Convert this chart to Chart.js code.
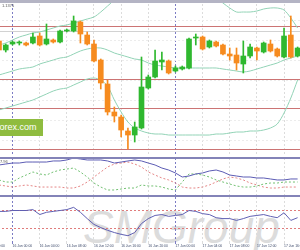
<!DOCTYPE html>
<html>
<head>
<meta charset="utf-8">
<script src="https://cdn.jsdelivr.net/npm/chart.js@4.4.0/dist/chart.umd.min.js"></script>
<style>
  html, body { margin: 0; padding: 0; background: #fff; }
  #wrap { position: relative; width: 300px; height: 250px; overflow: hidden; background: #fff; font-family: 'Liberation Sans', Arial, sans-serif; }
  .pane { position: absolute; left: -18px; }
  .pane canvas { display: block; }
  .sep { position: absolute; left: 0; width: 300px; height: 2px; background: #8383b8; }
  #wm { position: absolute; left: 83px; top: 204px; font-size: 46px; line-height: 46px; font-style: italic; color: #dcdcdc; white-space: nowrap; }
  #fx { position: absolute; left: 0; top: 119px; width: 43px; height: 17px; background: #8fbc3f; color: #fff; font-size: 9px; line-height: 17px; overflow: hidden; white-space: nowrap; text-indent: -3px; }
  .lbl { position: absolute; font-size: 4px; color: #555; white-space: nowrap; }
</style>
</head>
<body>
<div id="wrap">
  <div id="wm">SMGroup</div>
  <div class="pane" style="top:0"><canvas id="mainChart" width="319" height="155"></canvas></div>
  <div class="pane" style="top:158px"><canvas id="adxChart" width="319" height="38"></canvas></div>
  <div class="pane" style="top:197px"><canvas id="rsiChart" width="319" height="53"></canvas></div>
  <div style="position:absolute;left:0;top:0;width:300px;height:3px;background:#b4b4c4"></div>
  <div class="sep" style="top:157px"></div>
  <div class="sep" style="top:195px"></div>
  <div id="fx">forex.com</div>
  <div class="lbl" style="left:2px;top:3px">1.1375</div>
  <div class="lbl" style="left:0;top:159px">7.96</div>
</div>
<script>
// hourly bars, two empty slots on the left so the cut-off first label shows
var hours = ['15 Jun 20:00', '15 Jun 21:00', '15 Jun 22:00', '15 Jun 23:00',
    '16 Jun 00:00', '16 Jun 01:00', '16 Jun 02:00', '16 Jun 03:00', '16 Jun 04:00', '16 Jun 05:00',
    '16 Jun 06:00', '16 Jun 07:00', '16 Jun 08:00', '16 Jun 09:00', '16 Jun 10:00', '16 Jun 11:00',
    '16 Jun 12:00', '16 Jun 13:00', '16 Jun 14:00', '16 Jun 15:00', '16 Jun 16:00', '16 Jun 17:00',
    '16 Jun 18:00', '16 Jun 19:00', '16 Jun 20:00', '16 Jun 21:00', '16 Jun 22:00', '16 Jun 23:00',
    '17 Jun 00:00', '17 Jun 01:00', '17 Jun 02:00', '17 Jun 03:00', '17 Jun 04:00', '17 Jun 05:00',
    '17 Jun 06:00', '17 Jun 07:00', '17 Jun 08:00', '17 Jun 09:00', '17 Jun 10:00', '17 Jun 11:00',
    '17 Jun 12:00', '17 Jun 13:00', '17 Jun 14:00', '17 Jun 15:00', '17 Jun 16:00', '17 Jun 17:00',
    '17 Jun 18:00'];

var open = [1.1359, 1.1350, 1.1356, 1.1357, 1.1357, 1.1357, 1.1364, 1.1356, 1.1360, 1.1358, 1.1369, 1.1369, 1.1378, 1.1365, 1.1356,
    1.1340, 1.1316, 1.1288, 1.1283, 1.1269, 1.1265, 1.1272, 1.1312, 1.1323, 1.1338, 1.1339, 1.1329, 1.1331, 1.1332, 1.1362,
    1.1363, 1.1353, 1.1358, 1.1355, 1.1346, 1.1345, 1.1336, 1.1344, 1.1352, 1.1348, 1.1356, 1.1351, 1.1343, 1.1365, 1.1344];
var high = [1.1361, 1.1356, 1.1359, 1.1359, 1.1358, 1.1367, 1.1367, 1.1376, 1.1361, 1.1370, 1.1371, 1.1384, 1.1379, 1.1368, 1.1360,
    1.1341, 1.1320, 1.1293, 1.1285, 1.1272, 1.1278, 1.1343, 1.1325, 1.1350, 1.1348, 1.1340, 1.1334, 1.1334, 1.1362, 1.1366,
    1.1364, 1.1360, 1.1359, 1.1356, 1.1352, 1.1352, 1.1359, 1.1356, 1.1353, 1.1358, 1.1360, 1.1352, 1.1372, 1.1384, 1.1353];
var low = [1.1348, 1.1348, 1.1355, 1.1355, 1.1354, 1.1356, 1.1354, 1.1355, 1.1357, 1.1357, 1.1368, 1.1368, 1.1357, 1.1355, 1.1338,
    1.1311, 1.1285, 1.1278, 1.1263, 1.1251, 1.1258, 1.1271, 1.1311, 1.1322, 1.1330, 1.1326, 1.1328, 1.1330, 1.1331, 1.1355,
    1.1350, 1.1352, 1.1353, 1.1345, 1.1340, 1.1330, 1.1327, 1.1342, 1.1340, 1.1347, 1.1348, 1.1343, 1.1342, 1.1342, 1.1343];
var close = [1.1350, 1.1355, 1.1358, 1.1358, 1.1355, 1.1363, 1.1355, 1.1361, 1.1358, 1.1369, 1.1370, 1.1379, 1.1366, 1.1356, 1.1339,
    1.1317, 1.1288, 1.1284, 1.1270, 1.1265, 1.1273, 1.1313, 1.1323, 1.1339, 1.1340, 1.1327, 1.1332, 1.1333, 1.1361, 1.1363,
    1.1351, 1.1359, 1.1354, 1.1346, 1.1344, 1.1337, 1.1344, 1.1353, 1.1349, 1.1357, 1.1349, 1.1344, 1.1364, 1.1343, 1.1352];

// bollinger bands
var bandUpper = [1.1355, 1.1357, 1.1360, 1.1363, 1.1365, 1.1367, 1.1368, 1.1370, 1.1372, 1.1374, 1.1375, 1.1377, 1.1379, 1.1381, 1.1383,
    1.1388, 1.1394, 1.1400, 1.1406, 1.1412, 1.1416, 1.1418, 1.1420, 1.1422, 1.1424, 1.1424, 1.1422, 1.1420, 1.1418, 1.1414,
    1.1410, 1.1406, 1.1402, 1.1397, 1.1392, 1.1388, 1.1388, 1.1388, 1.1389, 1.1391, 1.1392, 1.1392, 1.1390, 1.1382, 1.1372];
var bandMid = [1.1325, 1.1327, 1.1329, 1.1331, 1.1332, 1.1333, 1.1336, 1.1338, 1.1340, 1.1342, 1.1343, 1.1346, 1.1349, 1.1351, 1.1352,
    1.1352, 1.1350, 1.1347, 1.1345, 1.1343, 1.1341, 1.1340, 1.1337, 1.1335, 1.1334, 1.1333, 1.1332, 1.1332, 1.1332, 1.1332,
    1.1332, 1.1332, 1.1332, 1.1331, 1.1330, 1.1329, 1.1328, 1.1329, 1.1331, 1.1333, 1.1335, 1.1337, 1.1340, 1.1342, 1.1344];
var bandLower = [1.1290, 1.1292, 1.1294, 1.1296, 1.1298, 1.1300, 1.1303, 1.1306, 1.1309, 1.1311, 1.1312, 1.1315, 1.1318, 1.1321, 1.1322,
    1.1320, 1.1314, 1.1300, 1.1288, 1.1278, 1.1272, 1.1269, 1.1267, 1.1266, 1.1266, 1.1265, 1.1265, 1.1265, 1.1265, 1.1265,
    1.1265, 1.1265, 1.1266, 1.1266, 1.1267, 1.1268, 1.1268, 1.1269, 1.1269, 1.1270, 1.1272, 1.1276, 1.1287, 1.1302, 1.1320];

// horizontal levels drawn on the price pane
var redLevels = [1.1374, 1.1321, 1.1292, 1.1251];
var greyLevels = [1.1369];

// ADX(14)
var adx = [40.8, 42.1, 43.4, 43.4, 44.7, 44.7, 44.7, 44.7, 46.1, 46.1, 47.4, 50.0, 48.7, 47.4, 47.4,
    47.4, 46.1, 43.4, 44.7, 46.1, 47.4, 46.1, 43.4, 40.8, 36.8, 34.2, 30.3, 25.0, 26.3, 29.0,
    30.3, 32.9, 34.2, 31.6, 27.6, 26.3, 25.0, 25.0, 23.7, 23.7, 22.4, 21.1, 21.1, 22.4, 22.4];
var plusDI = [21.1, 18.4, 18.4, 23.7, 27.6, 31.6, 29.0, 27.6, 31.6, 34.2, 35.5, 36.8, 31.6, 25.0, 17.1,
    11.8, 7.9, 7.9, 9.2, 10.5, 10.5, 14.5, 13.2, 13.2, 11.8, 9.2, 7.9, 18.4, 29.0, 29.0,
    27.6, 25.0, 21.1, 18.4, 15.8, 13.2, 11.8, 11.8, 13.2, 15.8, 17.1, 17.1, 18.4, 18.4, 18.4];
var minusDI = [14.5, 13.2, 11.8, 13.2, 14.5, 13.2, 11.8, 11.8, 11.8, 11.8, 10.5, 10.5, 13.2, 18.4, 25.0,
    31.6, 38.2, 42.1, 43.4, 44.7, 42.1, 38.2, 31.6, 27.6, 23.7, 21.1, 17.1, 11.8, 10.5, 10.5,
    11.8, 14.5, 18.4, 22.4, 25.0, 23.7, 21.1, 17.1, 14.5, 11.8, 10.5, 10.5, 11.8, 11.8, 11.8];

// RSI(14) with 70 / 30 levels
var rsi = [68, 68, 70, 70, 70, 72, 61, 66, 68, 70, 72, 77, 66, 52, 39,
    32, 26, 21, 17, 14, 21, 41, 52, 59, 61, 57, 59, 61, 70, 68,
    63, 61, 54, 52, 52, 48, 52, 57, 59, 61, 57, 54, 65, 48, 54];
var rsiLevels = [30, 70];

var UP = '#2fb82f', DOWN = '#f68b1f';

function pad(arr) { return [null, null].concat(arr); }

var candleColors = pad(open.map(function(o, i) { return close[i] >= o ? UP : DOWN; }));

function hourOf(i) { return parseInt((hours[i] || '').slice(7, 9), 10); }

// vertical grid every 4 hours, day start in blue
function vGridColor(ctx) {
    var h = hourOf(ctx.index);
    if (h === 0) return '#7c7cc4';
    return h % 4 === 0 ? '#dcdcdc' : 'rgba(0,0,0,0)';
}

var xHidden = {
    offset: true,
    ticks: { display: false, autoSkip: false },
    grid: { offset: false, drawTicks: false, color: vGridColor },
    border: { display: false, dash: [2, 2] }
};

var hLines = {
    id: 'hLines',
    beforeDatasetsDraw: function(chart, args, opts) {
        var ctx = chart.ctx, a = chart.chartArea, y = chart.scales.y;
        ctx.save();
        ctx.lineWidth = 1;
        (opts.sets || []).forEach(function(set) {
            ctx.strokeStyle = set.color;
            set.values.forEach(function(v) {
                var py = Math.round(y.getPixelForValue(v)) + 0.5;
                ctx.beginPath();
                ctx.moveTo(a.left, py);
                ctx.lineTo(a.right, py);
                ctx.stroke();
            });
        });
        ctx.restore();
    }
};

Chart.defaults.font.family = "'Liberation Sans', Arial, sans-serif";

//-------------
//- PRICE PANE -
//-------------
new Chart(document.getElementById('mainChart'), {
    type: 'bar',
    data: {
        labels: hours,
        datasets: [
            {
                label: 'Body',
                data: pad(open.map(function(o, i) { return [Math.min(o, close[i]), Math.max(o, close[i])]; })),
                backgroundColor: candleColors,
                barThickness: 5,
                minBarLength: 1,
                grouped: false,
                order: 0
            },
            {
                label: 'Wick',
                data: pad(low.map(function(l, i) { return [l, high[i]]; })),
                backgroundColor: candleColors,
                barThickness: 1,
                grouped: false,
                order: 1
            },
            { type: 'line', label: 'Upper', data: pad(bandUpper), borderColor: '#92d3b6', borderWidth: 1, pointRadius: 0, tension: 0.3, order: 2 },
            { type: 'line', label: 'Middle', data: pad(bandMid), borderColor: '#92d3b6', borderWidth: 1, pointRadius: 0, tension: 0.3, order: 2 },
            { type: 'line', label: 'Lower', data: pad(bandLower), borderColor: '#92d3b6', borderWidth: 1, pointRadius: 0, tension: 0.3, order: 2 }
        ]
    },
    options: {
        responsive: false,
        animation: false,
        devicePixelRatio: 1,
        layout: { padding: 0 },
        plugins: {
            legend: { display: false },
            tooltip: { enabled: false },
            hLines: { sets: [{ values: greyLevels, color: '#d2d2d2' }, { values: redLevels, color: '#cc7474' }] }
        },
        scales: {
            x: xHidden,
            y: {
                min: 1.1245,
                max: 1.1400,
                ticks: { display: false, stepSize: 0.002 },
                grid: { drawTicks: false, color: '#ececec' },
                border: { display: false, dash: [2, 2] }
            }
        }
    },
    plugins: [hLines]
});

//-------------
//- ADX PANE -
//-------------
new Chart(document.getElementById('adxChart'), {
    type: 'line',
    data: {
        labels: hours,
        datasets: [
            { label: 'ADX', data: pad(adx), borderColor: '#5c5cb4', borderWidth: 1, pointRadius: 0 },
            { label: '+DI', data: pad(plusDI), borderColor: '#72c072', borderWidth: 1, borderDash: [2, 2], pointRadius: 0 },
            { label: '-DI', data: pad(minusDI), borderColor: '#e58686', borderWidth: 1, borderDash: [2, 2], pointRadius: 0 }
        ]
    },
    options: {
        responsive: false,
        animation: false,
        devicePixelRatio: 1,
        layout: { padding: 0 },
        plugins: { legend: { display: false }, tooltip: { enabled: false } },
        scales: {
            x: xHidden,
            y: { display: false, min: 0, max: 50 }
        }
    }
});

//-------------
//- RSI PANE -
//-------------
new Chart(document.getElementById('rsiChart'), {
    type: 'line',
    data: {
        labels: hours,
        datasets: [
            { label: 'RSI', data: pad(rsi), borderColor: '#5f5fb2', borderWidth: 1, pointRadius: 0 }
        ]
    },
    options: {
        responsive: false,
        animation: false,
        devicePixelRatio: 1,
        layout: { padding: 0 },
        plugins: { legend: { display: false }, tooltip: { enabled: false } },
        scales: {
            x: {
                offset: true,
                afterFit: function(scale) { scale.height = 8; },
                ticks: {
                    autoSkip: false,
                    maxRotation: 0,
                    minRotation: 0,
                    align: 'start',
                    padding: 0,
                    color: '#3d4a6b',
                    font: { size: 3.4 },
                    callback: function(v, i) { return hourOf(i) % 4 === 0 ? hours[i] : ''; }
                },
                grid: { offset: false, drawTicks: true, tickLength: 2, color: vGridColor },
                border: { display: false, dash: [2, 2] }
            },
            y: {
                min: 0,
                max: 100,
                afterBuildTicks: function(scale) { scale.ticks = rsiLevels.map(function(v) { return { value: v }; }); },
                ticks: { display: false },
                grid: { drawTicks: false, color: '#e07c7c' },
                border: { display: false, dash: [2, 2] }
            }
        }
    }
});
</script>
</body>
</html>
